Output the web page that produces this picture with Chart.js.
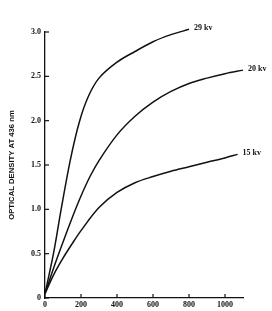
<!DOCTYPE html>
<html>
<head>
<meta charset="utf-8">
<script src="https://cdn.jsdelivr.net/npm/chart.js@4/dist/chart.umd.min.js"></script>
<style>
  body { margin: 0; background: #fff; }
  canvas { display: block; }
</style>
</head>
<body>
<canvas id="chart" width="272" height="311"></canvas>
<script>
// exposure time on x, optical density on y
const x29 = [0, 47, 88, 140, 190, 240, 300, 400, 500, 600, 700, 800];
const y29 = [0.05, 0.5, 0.98, 1.55, 1.98, 2.27, 2.48, 2.66, 2.78, 2.89, 2.97, 3.03];

const x20 = [0, 50, 100, 150, 200, 250, 300, 400, 500, 600, 700, 800, 900, 1000, 1100];
const y20 = [0.05, 0.35, 0.63, 0.9, 1.15, 1.37, 1.55, 1.84, 2.05, 2.21, 2.33, 2.42, 2.48, 2.53, 2.57];

const x15 = [0, 50, 100, 150, 200, 300, 400, 500, 600, 700, 800, 900, 1000, 1070];
const y15 = [0.05, 0.27, 0.45, 0.61, 0.76, 1.02, 1.19, 1.3, 1.37, 1.43, 1.48, 1.53, 1.58, 1.62];

const seriesLabels = ['29 kv', '20 kv', '15 kv'];
const xTicks = [0, 200, 400, 600, 800, 1000];
const yTicks = [0, 0.5, 1.0, 1.5, 2.0, 2.5, 3.0];

function pairs(xs, ys) {
    return xs.map((x, i) => ({ x: x, y: ys[i] }));
}

const serif = "'Liberation Serif', 'DejaVu Serif', serif";

// inside tick marks + end-of-curve labels
const decorations = {
    id: 'decorations',
    afterDraw(chart) {
        const ctx = chart.ctx;
        const xs = chart.scales.x;
        const ys = chart.scales.y;
        const area = chart.chartArea;
        ctx.save();
        ctx.strokeStyle = '#111';
        ctx.lineWidth = 1.2;
        yTicks.forEach(v => {
            const py = ys.getPixelForValue(v);
            ctx.beginPath();
            ctx.moveTo(area.left, py);
            ctx.lineTo(area.left + 4, py);
            ctx.stroke();
        });
        xTicks.forEach(v => {
            const px = xs.getPixelForValue(v);
            ctx.beginPath();
            ctx.moveTo(px, area.bottom);
            ctx.lineTo(px, area.bottom - 4);
            ctx.stroke();
        });

        ctx.fillStyle = '#111';
        ctx.font = 'bold 8px ' + serif;
        ctx.textBaseline = 'middle';
        ctx.textAlign = 'left';
        chart.data.datasets.forEach((ds, i) => {
            const last = ds.data[ds.data.length - 1];
            const px = xs.getPixelForValue(last.x);
            const py = ys.getPixelForValue(last.y);
            ctx.fillText(seriesLabels[i], px + 5, py - 1);
        });
        ctx.restore();
    }
};

const lineStyle = {
    borderColor: '#111',
    borderWidth: 1.5,
    pointRadius: 0,
    fill: false,
    tension: 0.35,
    clip: false
};

new Chart(document.getElementById('chart').getContext('2d'), {
    type: 'line',
    data: {
        datasets: [
            Object.assign({ label: seriesLabels[0], data: pairs(x29, y29) }, lineStyle),
            Object.assign({ label: seriesLabels[1], data: pairs(x20, y20) }, lineStyle),
            Object.assign({ label: seriesLabels[2], data: pairs(x15, y15) }, lineStyle)
        ]
    },
    options: {
        responsive: false,
        animation: false,
        layout: { padding: { top: 32, right: 29, left: 0, bottom: 0 } },
        plugins: {
            legend: { display: false },
            tooltip: { enabled: false }
        },
        scales: {
            x: {
                type: 'linear',
                min: 0,
                max: 1100,
                afterBuildTicks: scale => { scale.ticks = xTicks.map(v => ({ value: v })); },
                afterFit: scale => { scale.height = 13; },
                grid: { display: false, drawTicks: false },
                border: { color: '#111', width: 1.3 },
                ticks: {
                    color: '#111',
                    padding: 2,
                    maxRotation: 0,
                    autoSkip: false,
                    font: { family: serif, size: 8, weight: 'bold' },
                    callback: v => String(v)
                }
            },
            y: {
                type: 'linear',
                min: 0,
                max: 3.0,
                afterBuildTicks: scale => { scale.ticks = yTicks.map(v => ({ value: v })); },
                afterFit: scale => { scale.width = 45; },
                grid: { display: false, drawTicks: false },
                border: { color: '#111', width: 1.3 },
                ticks: {
                    color: '#111',
                    padding: 4,
                    font: { family: serif, size: 8, weight: 'bold' },
                    callback: v => v === 0 ? '0' : v.toFixed(1)
                },
                title: {
                    display: true,
                    text: 'OPTICAL DENSITY AT 436 nm',
                    color: '#111',
                    font: { family: "'Liberation Sans', Arial, sans-serif", size: 7.7, weight: 'bold' },
                    padding: { top: 7, bottom: 4 }
                }
            }
        }
    },
    plugins: [decorations]
});
</script>
</body>
</html>
